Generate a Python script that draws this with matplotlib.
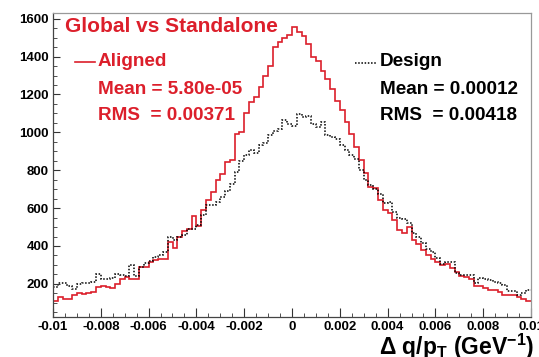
import matplotlib.pyplot as plt
from matplotlib.ticker import MultipleLocator, FixedLocator
import numpy as np

plt.rcParams['font.family'] = ['Liberation Sans', 'DejaVu Sans']
plt.rcParams['font.weight'] = 'bold'
plt.rcParams['mathtext.fontset'] = 'custom'
plt.rcParams['mathtext.bf'] = 'Liberation Sans:bold'
plt.rcParams['mathtext.rm'] = 'Liberation Sans:bold'
plt.rcParams['mathtext.default'] = 'bf'

# 100 bins from -0.01 to 0.01
bin_edges = np.linspace(-0.01, 0.01, 101)

aligned = [112, 133, 121, 121, 140, 150, 145, 152, 155, 186,
           188, 185, 180, 200, 226, 238, 226, 228, 289, 290,
           318, 326, 331, 331, 423, 389, 449, 480, 490, 556,
           508, 588, 642, 686, 750, 782, 844, 856, 993, 1000,
           1100, 1160, 1186, 1238, 1300, 1352, 1449, 1475, 1500, 1515,
           1554, 1528, 1510, 1467, 1400, 1379, 1326, 1284, 1231, 1168,
           1116, 1054, 993, 923, 853, 783, 712, 705, 642, 589,
           572, 537, 484, 468, 502, 432, 410, 378, 352, 330,
           318, 300, 305, 282, 260, 242, 238, 225, 190, 190,
           177, 170, 165, 155, 142, 139, 142, 133, 120, 107]

design = [184, 205, 205, 189, 173, 200, 207, 207, 210, 250,
          224, 224, 229, 253, 245, 244, 298, 243, 291, 312,
          320, 344, 352, 370, 445, 432, 449, 458, 488, 490,
          511, 563, 616, 616, 633, 660, 690, 725, 790, 850,
          880, 905, 890, 932, 945, 984, 1005, 1015, 1067, 1046,
          1036, 1098, 1080, 1085, 1046, 1028, 1054, 984, 975, 967,
          932, 905, 880, 861, 800, 747, 720, 700, 677, 626,
          633, 580, 550, 540, 519, 467, 445, 415, 385, 370,
          335, 305, 318, 318, 256, 247, 247, 245, 204, 230,
          225, 221, 212, 204, 195, 160, 160, 142, 151, 165]

xtick_vals = [-0.01, -0.008, -0.006, -0.004, -0.002, 0, 0.002, 0.004, 0.006, 0.008, 0.01]
xtick_labels = ['-0.01', '-0.008', '-0.006', '-0.004', '-0.002', '0',
                '0.002', '0.004', '0.006', '0.008', '0.01']

red = '#dc1f2b'

W, H = 539, 357
fig = plt.figure(figsize=(W / 100, H / 100), dpi=100)
ax = fig.add_axes([53 / W, 1 - 317 / H, (531 - 53) / W, (317 - 13) / H])

ax.stairs(aligned, bin_edges, baseline=None, color=red, lw=1.2)
ax.stairs(design, bin_edges, baseline=None, color='black', lw=1.1,
          linestyle=(0, (1, 1.1)))

ax.set_xlim(-0.01, 0.01)
ax.set_ylim(25, 1630)

ax.xaxis.set_major_locator(FixedLocator(xtick_vals))
ax.set_xticklabels(xtick_labels)
ax.xaxis.set_minor_locator(MultipleLocator(0.0005))
ax.yaxis.set_major_locator(MultipleLocator(200))
ax.yaxis.set_minor_locator(MultipleLocator(50))
ax.tick_params(axis='both', which='both', direction='in', labelsize=9.5,
               top=False, right=False, color='#333333')
ax.tick_params(axis='x', which='major', length=6.5, pad=3)
ax.tick_params(axis='x', which='minor', length=3)
ax.tick_params(axis='y', which='major', length=5, pad=3)
ax.tick_params(axis='y', which='minor', length=3)
for lab in ax.get_xticklabels() + ax.get_yticklabels():
    lab.set_fontweight('bold')

for s in ['left', 'bottom']:
    ax.spines[s].set_color('#444444')
    ax.spines[s].set_linewidth(0.9)
for s in ['top', 'right']:
    ax.spines[s].set_color('#999999')
    ax.spines[s].set_linewidth(0.9)

# title and stats boxes
fig.text(65 / W, 1 - 27 / H, 'Global vs Standalone', color=red, fontsize=15,
         fontweight='bold', va='center', ha='left')

fs = 13.6
fig.add_artist(plt.Line2D([75 / W, 95 / W], [1 - 62 / H, 1 - 62 / H],
                          color=red, lw=1.2))
fig.text(98 / W, 1 - 62 / H, 'Aligned', color=red, fontsize=fs,
         fontweight='bold', va='center')
fig.text(98 / W, 1 - 89 / H, 'Mean = 5.80e-05', color=red, fontsize=fs,
         fontweight='bold', va='center')
fig.text(98 / W, 1 - 115 / H, 'RMS  = 0.00371', color=red, fontsize=fs,
         fontweight='bold', va='center')

fig.add_artist(plt.Line2D([355 / W, 377 / W], [1 - 63 / H, 1 - 63 / H],
                          color='black', lw=1.1, linestyle=(0, (1, 1.1))))
fig.text(380 / W, 1 - 62 / H, 'Design', color='black', fontsize=fs,
         fontweight='bold', va='center')
fig.text(380 / W, 1 - 89 / H, 'Mean = 0.00012', color='black', fontsize=fs,
         fontweight='bold', va='center')
fig.text(380 / W, 1 - 115 / H, 'RMS  = 0.00418', color='black', fontsize=fs,
         fontweight='bold', va='center')

# x axis title, bottom right
fig.text(534 / W, 1 - 347 / H, 'Δ q/p$_{T}$ (GeV$^{-1}$)', fontsize=16.5,
         fontweight='bold', ha='right', va='center')

fig.savefig('out.png', dpi=100)
